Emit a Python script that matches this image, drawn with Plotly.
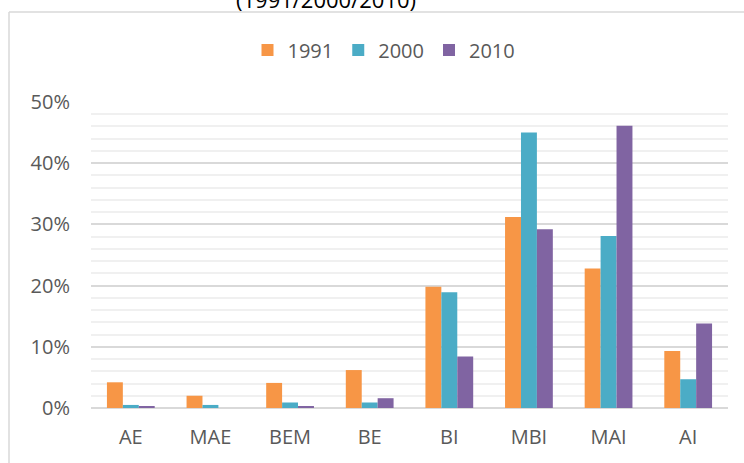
import plotly.graph_objects as go

categories = ["AE", "MAE", "BEM", "BE", "BI", "MBI", "MAI", "AI"]
series_names = ["1991", "2000", "2010"]
values_1991 = [0.042, 0.020, 0.041, 0.062, 0.198, 0.312, 0.228, 0.093]
values_2000 = [0.005, 0.005, 0.009, 0.009, 0.189, 0.450, 0.281, 0.047]
values_2010 = [0.002, 0.000, 0.002, 0.016, 0.084, 0.292, 0.461, 0.138]
colors = ["#F79646", "#4BACC6", "#8064A2"]
title_text = "(1991/2000/2010)"

W, H = 744, 463
L, R, T, B = 91, 16, 102, 55
pw, ph = W - L - R, H - T - B

def px_x(x):
    return (x - L) / pw

def px_y(y):
    return (H - B - y) / ph

fig = go.Figure()
for name, vals, col in zip(series_names, [values_1991, values_2000, values_2010], colors):
    fig.add_trace(go.Bar(x=categories, y=vals, name=name, marker=dict(color=col, line=dict(width=0))))

font_family = "Open Sans"
fig.update_layout(
    width=W, height=H,
    margin=dict(l=L, r=R, t=T, b=B, autoexpand=False),
    paper_bgcolor="white", plot_bgcolor="white",
    barmode="group", bargap=0.4, bargroupgap=0,
    font=dict(family=font_family, size=20, color="#595959"),
    showlegend=True,
    legend=dict(orientation="h", x=px_x(384), xanchor="center", y=px_y(50), yanchor="middle",
                font=dict(size=20, color="#595959"), traceorder="normal", itemwidth=30),
    xaxis=dict(showgrid=False, showline=False, ticks="", ticklabelstandoff=15,
               tickfont=dict(size=20, color="#595959")),
    yaxis=dict(range=[0, 0.5], dtick=0.1, tickformat=".0%", showgrid=True,
               gridcolor="#D9D9D9", gridwidth=1.5, zeroline=True, zerolinecolor="#D9D9D9",
               zerolinewidth=1.5, showline=False, ticks="", ticklabelstandoff=20,
               tickfont=dict(size=20, color="#595959"),
               minor=dict(dtick=0.02, showgrid=True, gridcolor="#F0F0F0", gridwidth=1.5)),
    shapes=[
        dict(type="line", xref="paper", yref="paper", x0=px_x(9), x1=px_x(9), y0=px_y(12), y1=px_y(470),
             line=dict(color="#D9D9D9", width=1.5)),
        dict(type="line", xref="paper", yref="paper", x0=px_x(9), x1=px_x(750), y0=px_y(12), y1=px_y(12),
             line=dict(color="#D9D9D9", width=1.5)),
    ],
    annotations=[
        dict(text=title_text, xref="paper", yref="paper", x=px_x(326), y=px_y(-1), xanchor="center",
             yanchor="middle", showarrow=False, font=dict(size=22, color="#000000", family=font_family)),
    ],
)

fig.write_html("out.html", config={"displayModeBar": False},
               post_script="document.body.style.margin='0';document.body.style.overflow='hidden';")
